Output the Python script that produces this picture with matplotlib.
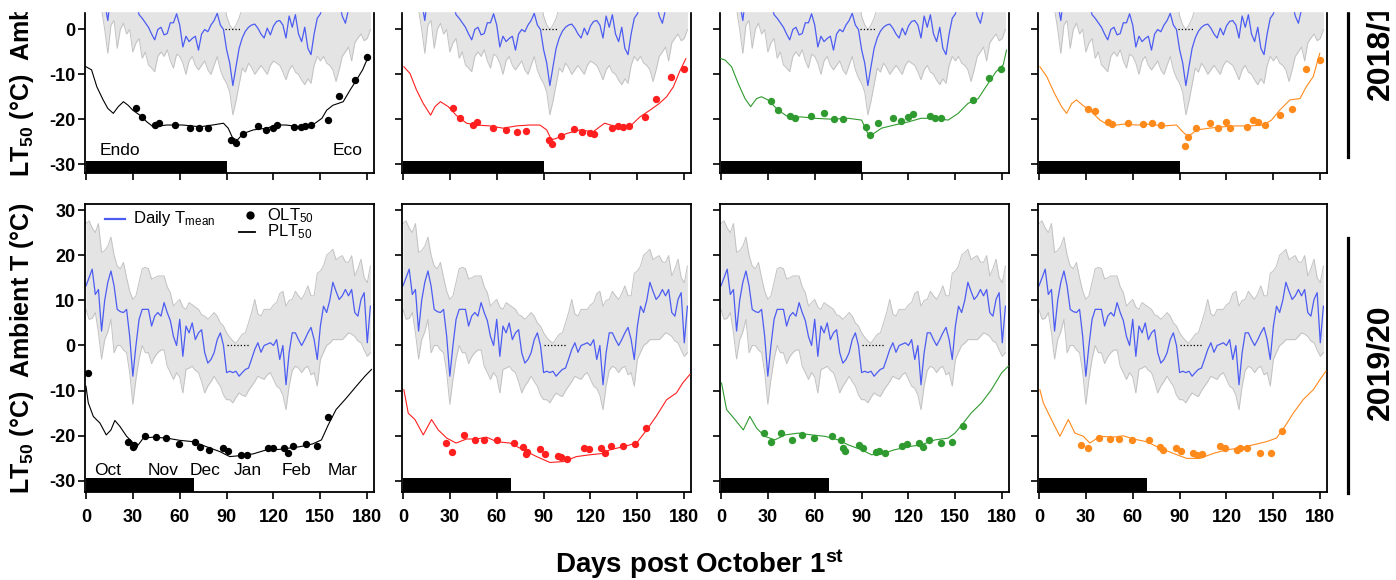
import matplotlib
matplotlib.use('Agg')
import matplotlib.pyplot as plt
from matplotlib.patches import Rectangle
from matplotlib.lines import Line2D
import numpy as np

plt.rcParams['font.family'] = ['Liberation Sans', 'DejaVu Sans']
plt.rcParams['mathtext.default'] = 'regular'

# daily temperature, sampled every 2 days from Oct 1st
days = np.arange(0, 184, 2)

# 2018/19 season
t_mean_1819 = [12, 10, 11, 13, 9, 8, 6, 2, 8, 10,
               9, 11, 8, 9, 7, 8, 6, 3.3, 2.5, 1.5,
               0.5, -1, -2.3, 0, 0.5, -1.2, -0.9, 1.5, 1.5, 3.5,
               1, -3.9, -1.5, -2.7, -2, -1.5, -4.6, -1, 0, -0.5,
               1, 2, 3.6, 1, 0, -4.5, -7.5, -12.5, -8.3, -4.2,
               -1.9, -0.4, 0.5, 1, 1.2, 0.3, -1, -1.9, 0.3, -1.2,
               0.8, 1.8, 2, 1, -1.9, 3, 0.5, 3.3, -1, -2.7,
               0.5, -4.2, -5.6, -1, 2.5, 3.5, 6, 8, 5, 7,
               9, 6, 3, 1.4, 4.5, 7, 10, 9, 12, 8,
               10, 12]
t_max_1819 = [22, 20, 18, 21, 19, 17, 15, 12, 17, 19,
              16, 18, 15, 16, 14, 15, 13, 12, 11, 10,
              9, 8, 7, 9, 10, 8, 9, 11, 10, 12,
              10, 7, 8, 9, 8, 9, 6, 8, 9, 8,
              10, 11, 12, 10, 8, 3, 1, 0, 1, 2.5,
              5, 8, 9, 10, 11, 9, 8, 7, 9, 8,
              10, 11, 12, 10, 8, 12, 10, 12, 9, 8,
              10, 7, 6, 9, 12, 13, 15, 17, 14, 16,
              18, 15, 12, 11, 13, 16, 19, 18, 21, 17,
              19, 21]
t_min_1819 = [6, 5, 7, 8, 5, 4.5, 0, -5.3, 1, 2,
              -4.2, 0, 1.4, -1, 0, -5, -3, -2, -6.4, -5,
              -7.9, -8.6, -9.4, -6, -5, -6, -4.5, -7, -8.6, -5.5,
              -6, -7.5, -10, -7, -6, -8, -9, -8, -7, -9,
              -10, -8, -6, -9, -10.8, -12, -14, -19, -16, -12.3,
              -8.6, -9.5, -7.5, -8.5, -10, -9, -8, -9, -10, -8,
              -7, -7.5, -8, -9.5, -11.2, -9, -8, -9.5, -10, -11.3,
              -12.3, -11, -12, -8, -6, -7, -6, -7.5, -8, -9,
              -11.6, -9, -6, -5, -3.9, -7, -3, -1.9, -1, -2.5,
              -2, 0]

# 2019/20 season
t_mean_1920 = [13.2, 15.0, 16.9, 11.3, 12.4, 3.2, 10.0, 14.0, 16.5, 13.2,
               8.0, 7.5, 7.3, 8.0, 2.0, -6.8, 0.0, 5.8, 8.0, 8.0,
               8.0, 4.3, 6.5, 7.3, 6.5, 9.5, 7.3, 5.5, 2.0, 0.0,
               5.8, -2.4, 4.3, 2.8, 5.0, 1.3, 2.8, 3.5, -1.6, -3.9,
               -3.1, -1.6, 1.3, 2.8, 0.0, -6.0, -5.7, -6.0, -5.7, -6.8,
               -6.0, -5.3, -5.0, -3.0, -0.9, 0.6, -1.5, 0.0, 0.3, 0.6,
               0.0, 1.3, -3.1, 0.0, -8.7, -1.6, 2.8, 2.8, 1.3, 0.0,
               1.3, 2.8, 4.0, 1.3, -3.1, 4.3, 8.7, 7.3, 10.0, 14.0,
               12.0, 10.2, 11.0, 12.4, 11.0, 12.4, 7.3, 6.5, 10.2, 11.7,
               0.6, 8.7]
t_max_1920 = [27, 27.6, 26, 25, 27, 20.6, 21, 22, 24, 20,
              17.6, 17, 18.4, 15, 12, 10.2, 11, 14, 17, 17.3,
              17, 14.7, 15, 15.4, 15.4, 15.4, 13, 11.7, 8.7, 9.5,
              10.2, 8.5, 8, 9.5, 9, 8.5, 8, 6.8, 6.5, 5.8,
              6.5, 7.3, 6.5, 5, 4.3, 2.8, 1.8, 1, 0.5, 1.5,
              2.5, 2.8, 5, 7.3, 10.2, 7, 6.5, 8, 8, 8,
              9, 9.5, 11.5, 12, 8.7, 10, 10.2, 12, 11, 10.2,
              11.5, 13.2, 11, 11, 16, 16.5, 17.6, 20, 20.6, 21.3,
              19, 19.5, 19.9, 18.5, 18.4, 19.9, 15.4, 17, 19.1, 15,
              13.9, 17.6]
t_min_1920 = [8, 5.8, 6, 7.3, 2.8, -3, 1.3, 3, 5.8, -1.6,
              0, 0, -1, -1.6, -6, -13, -7.5, -3, 0, -1.6,
              -1.6, -4, -2.5, -1.6, -1, -1, -4.6, -6, -7.5, -6,
              -7, -10.5, -5.3, -5, -4.6, -5.5, -6, -8, -10.5, -9,
              -8, -6.8, -8, -9, -11, -12, -12, -12.7, -11.5, -10.5,
              -11, -11.3, -10, -9, -8, -6.8, -7.2, -7.5, -6.5, -6,
              -7.5, -9, -9.5, -11, -14.2, -9, -5.5, -4.6, -5, -6,
              -5, -4.6, -6.5, -6, -9, -3.1, -1.5, 0, 0.5, 1.3,
              1.3, 1.3, 1.3, 2, 2.8, 2.5, 2, 1, 0.6, -1,
              -2.4, -1.6]

# predicted LT50 (lines) and observed LT50 (dots), 2018/19
plt_d_1819_k = [0, 3.6, 7, 11, 14, 17.5, 20.7, 24, 27, 30, 34.5, 39, 43, 51.6, 62, 73, 81, 88, 91, 94,
                97, 100.6, 107, 115.6, 122, 128, 137, 145, 151, 154, 158, 164.6, 169, 173, 177, 180.6]
plt_v_1819_k = [-8.3, -9, -12.8, -15.7, -17.6, -18.7, -17.2, -16.1, -16.9, -18, -19.1, -20.6, -21.7, -21.3,
                -21.3, -21.7, -21.3, -20.9, -22, -24.3, -24.6, -23.2, -22.4, -22, -21.3, -21.3, -21.7,
                -21.3, -19.8, -18, -16.9, -16.1, -13.5, -11.3, -9, -6.1]
olt_d_1819_k = [32, 36, 44, 47, 57, 66.5, 72.5, 78, 93, 96, 100.6, 110, 115, 119.4, 122, 133, 137.5, 140,
                144, 155, 162, 172, 180]
olt_v_1819_k = [-17.4, -19.5, -21.2, -20.9, -21.3, -22, -22, -22, -24.6, -25.4, -23.2, -21.5, -22.4, -22,
                -21.3, -21.7, -21.7, -21.5, -21.3, -20.2, -14.8, -11.3, -6.1]

plt_d_1819_r = [0.6, 4.5, 8.7, 13, 17.7, 20.5, 24, 29, 34, 40.7, 47, 55.6, 64, 72.7, 81, 87.6, 92, 95, 98,
                104.7, 113, 121.7, 129, 136.7, 145, 151.6, 158, 164, 168.7, 173, 177, 181]
plt_v_1819_r = [-8.3, -9.8, -13.5, -16.5, -19.1, -17.2, -16.1, -17.2, -19.1, -20.9, -21.3, -21.5, -22,
                -21.5, -21.3, -21.3, -22.4, -24.6, -24.3, -23.2, -22.4, -22.8, -20.9, -21.7, -21.7, -19.5,
                -18, -16.5, -15, -12.8, -9.4, -6.5]
olt_d_1819_r = [32, 36.5, 45, 47.5, 57.8, 66, 72.7, 78.7, 93.6, 95.5, 100.9, 109.6, 114.7, 119.6, 122.4,
                133.5, 137.7, 140.5, 144.6, 154.8, 161.6, 171.8, 179.7]
olt_v_1819_r = [-17.6, -19.8, -21.3, -20.6, -21.9, -22.4, -22.8, -22.6, -24.6, -25.5, -23.8, -22.2, -22.9,
                -23, -23.2, -22, -21.5, -21.8, -21.5, -19.5, -15.6, -10.7, -8.7]

plt_d_1819_g = [0, 2.6, 6.8, 11, 15.4, 19, 22.8, 26, 30, 36.7, 43, 51.6, 60, 70.8, 81.4, 90, 94, 96.4,
                102.8, 111, 120, 128, 137, 145.4, 151.8, 158, 164.6, 171, 176, 180.6, 182.7]
plt_v_1819_g = [-6.5, -6.8, -8.3, -12, -15.4, -17.2, -15.4, -15, -15.7, -18, -19.5, -19.5, -19.8, -20,
                -19.8, -20.2, -23.2, -23.5, -22, -21.3, -20.6, -19.8, -19.8, -20.2, -18.7, -16.5, -15.4,
                -12, -9.4, -7.9, -4.6]
olt_d_1819_g = [32, 36.7, 44, 47.3, 57.6, 66, 72.3, 78, 93, 95.3, 100.6, 109.8, 114.9, 119.8, 122.6,
                133.7, 137, 141, 161.4, 171.6, 179.5]
olt_v_1819_g = [-16, -18, -19.3, -19.7, -19.3, -18.7, -20, -20, -21.7, -23.5, -20.9, -19.8, -20.4, -19.5,
                -18.9, -19.3, -19.8, -19.8, -15.7, -10.9, -8.8]

plt_d_1819_o = [0.6, 5, 10, 14.5, 17.7, 21, 24, 28, 32.6, 39, 45.4, 54, 62.5, 71, 79.5, 88, 92, 95.5,
                100.9, 109, 118, 126, 135, 143.5, 148.8, 154, 160.6, 167, 171, 175.5, 179.7]
plt_v_1819_o = [-8.3, -10.5, -14.3, -17.2, -18.7, -16.5, -15.7, -16.9, -18, -20.2, -21.5, -21.1, -21.3,
                -21.1, -21.5, -21.3, -22.8, -23.9, -22.4, -22, -21.7, -21.5, -21.5, -21.3, -20.2, -18,
                -15.7, -15.4, -12.8, -10.5, -5.3]
olt_d_1819_o = [31.6, 35.8, 44.3, 47, 57, 66.3, 72.3, 78, 93.4, 95.5, 100.4, 109.4, 114.7, 119.6, 122,
                133, 137, 140, 144.6, 154, 161.6, 171, 179.7]
olt_v_1819_o = [-17.8, -18.2, -20.6, -21.1, -20.9, -21.1, -20.9, -21.4, -25.9, -23.9, -21.9, -20.9, -22,
                -20.6, -22, -21.8, -20.2, -20.6, -21.3, -19.1, -17.8, -8.7, -6.8]

# 2019/20
plt_d_1920_k = [0, 1.5, 4.7, 9, 13, 16, 18.5, 21.7, 26, 30.3, 33.5, 36.7, 43, 51.6, 60, 68.7, 77, 85.7,
                92, 98.5, 107, 115.6, 124, 130.5, 137, 145, 150.7, 155, 160, 166.7, 173, 178.5, 182.7]
plt_v_1920_k = [-9, -12.7, -15.7, -17.2, -19.8, -18.7, -16.6, -17.9, -20.1, -21.6, -22, -20.5, -20.3,
                -20.5, -21, -21.3, -22.4, -23.5, -24.6, -24.4, -24, -23.1, -23, -22.7, -22.4, -21.8,
                -20.9, -17.6, -14.2, -11.6, -9, -6.8, -5.3]
olt_d_1920_k = [1.5, 27, 30.3, 31, 38, 45, 51, 59.7, 70, 73, 79, 88, 91, 99, 103, 116.6, 120, 127, 129.4,
                132.6, 141, 148, 155]
olt_v_1920_k = [-6.1, -21.3, -22.4, -22, -20, -20.3, -20.4, -21.8, -21.3, -22.4, -23.1, -22.7, -23.3,
                -24.2, -24.2, -22.7, -22.7, -22.7, -23.9, -22.2, -21.8, -22.2, -15.9]

plt_d_1920_r = [0.6, 3.4, 7.7, 13, 18.3, 22.6, 28, 34, 40.7, 47, 53.5, 60, 68.4, 77, 85.5, 94, 102.6,
                111, 119.6, 128, 132.4, 141, 149.5, 155.9, 162, 168.7, 175, 179, 183.6]
plt_v_1920_r = [-9.8, -15, -16.4, -19.8, -16.4, -18.7, -20.5, -21.6, -20.7, -20.7, -20.3, -21.3, -21.6,
                -23.1, -24.6, -25.9, -25.7, -24.6, -24.2, -23.9, -23.1, -22.4, -21.6, -18.7, -15.7, -12,
                -10.5, -8.3, -6.4]
olt_d_1920_r = [27.5, 31.6, 39, 46, 51.8, 60, 71, 77, 78.7, 79.5, 88, 91, 99.4, 101, 105, 116, 119,
                126.6, 129, 133, 141, 148.4, 155.4]
olt_v_1920_r = [-21.5, -23.5, -19.8, -21, -21, -21, -21.6, -22.5, -24, -23.5, -23, -24, -24.4, -24.6,
                -25.2, -22.7, -23, -22.7, -23.9, -22.2, -22.2, -21.9, -18.3]

plt_d_1920_g = [0.4, 3.6, 9, 14.3, 18.5, 22.8, 28, 34.5, 41, 49.5, 58, 66.5, 75, 81.4, 90, 96.4, 102.8,
                111, 120, 128, 137, 145.4, 149.7, 155, 160, 166.7, 173, 179.5, 183.8]
plt_v_1920_g = [-8.3, -14.2, -16.4, -18.7, -15.7, -18.3, -20.1, -20.9, -19.8, -19.4, -19.8, -20.1,
                -20.9, -22, -23.1, -24.2, -24, -23.1, -22.4, -22, -20.9, -20.5, -19.4, -17.2, -15, -12.7,
                -9.8, -6.1, -4.6]
olt_d_1920_g = [27.7, 32, 38.4, 45.6, 51.6, 59.7, 70.8, 76.8, 78.3, 79.3, 88.3, 91, 99, 101, 105, 116,
                119, 126.9, 129.4, 133, 141, 148, 155]
olt_v_1920_g = [-19.4, -21.3, -19.4, -20.9, -19.8, -20.5, -20.1, -20.9, -22.7, -23.3, -22, -22.7,
                -23.5, -23.3, -23.9, -22.2, -21.9, -21.6, -22.4, -20.9, -21.6, -21.3, -17.8]

plt_d_1920_o = [0.6, 2.8, 7, 13.4, 18.8, 23, 28.4, 32.6, 39, 47.5, 54, 60.3, 68.9, 77.4, 86, 94.5, 103,
                111.5, 120, 128.6, 137, 145.6, 152, 157.4, 162.7, 169, 175.5, 179.7, 183.6]
plt_v_1920_o = [-9.8, -12.7, -15.7, -20.1, -16.4, -19.4, -20.1, -21.6, -20.1, -20.3, -20, -20.7, -21.3,
                -22.7, -23.9, -25, -25, -23.9, -23.1, -22.7, -22, -21.3, -20.5, -17.9, -15, -12, -9.8,
                -7.6, -5.7]
olt_d_1920_o = [26.9, 31.6, 38.6, 45.4, 51.4, 59.7, 70.6, 77.4, 79.5, 88, 90.8, 98.7, 100.9, 104.5,
                115.8, 119, 126.9, 128.6, 132.8, 141.4, 148.2, 155.2]
olt_v_1920_o = [-22, -22.7, -20.5, -20.7, -20.7, -21, -21, -22.5, -23.1, -22.7, -23.3, -23.7, -24.2,
                -24.1, -22.2, -22.7, -23.1, -22.7, -22.7, -23.7, -23.7, -19]

colors = ['black', '#ff1f1f', '#2f9a2f', '#ff8a1c']
seasons = ['2018/19', '2019/20']
endo_end = [90, 69]    # end of black bar (endodormancy)
months = ['Oct', 'Nov', 'Dec', 'Jan', 'Feb', 'Mar']
month_pos = [14, 49.5, 76, 103.5, 135, 164]

temps = [(t_mean_1819, t_min_1819, t_max_1819), (t_mean_1920, t_min_1920, t_max_1920)]
lines = [[(plt_d_1819_k, plt_v_1819_k, olt_d_1819_k, olt_v_1819_k),
          (plt_d_1819_r, plt_v_1819_r, olt_d_1819_r, olt_v_1819_r),
          (plt_d_1819_g, plt_v_1819_g, olt_d_1819_g, olt_v_1819_g),
          (plt_d_1819_o, plt_v_1819_o, olt_d_1819_o, olt_v_1819_o)],
         [(plt_d_1920_k, plt_v_1920_k, olt_d_1920_k, olt_v_1920_k),
          (plt_d_1920_r, plt_v_1920_r, olt_d_1920_r, olt_v_1920_r),
          (plt_d_1920_g, plt_v_1920_g, olt_d_1920_g, olt_v_1920_g),
          (plt_d_1920_o, plt_v_1920_o, olt_d_1920_o, olt_v_1920_o)]]

W, H = 1396, 580
fig = plt.figure(figsize=(W / 100, H / 100), dpi=100)


def box(left, top, w, h):
    return [left / W, 1 - (top + h) / H, w / W, h / H]


col_left = [85, 402, 720, 1038]
# top row is cut off at the top of the picture, like the original figure
row_box = [(-111, 284, (-32, 31.33)), (204, 288, (-32.44, 31.33))]
# season bar (top, bottom) and label centre, in pixels from the top
season_bar = [(-98, 157), (238, 493)]
season_mid = [42, 362]

for r in range(2):
    top, h, ylim = row_box[r]
    tmean, tmin, tmax = temps[r]
    for c in range(4):
        ax = fig.add_axes(box(col_left[c], top, 289, h))
        ax.fill_between(days, tmin, tmax, color='#e4e4e4', lw=0, zorder=1)
        ax.plot(days, tmin, color='#c2c2c2', lw=0.7, zorder=1.5)
        ax.plot(days, tmax, color='#c2c2c2', lw=0.7, zorder=1.5)
        ax.plot(days, tmean, color='#4b5cf2', lw=0.9, zorder=2)
        if r == 0:
            ax.plot([89, 99], [0, 0], ls=':', color='k', lw=0.9, zorder=3)
        else:
            ax.plot([90, 105], [0, 0], ls=':', color='k', lw=0.9, zorder=3)
        pd, pv, od, ov = lines[r][c]
        ax.plot(pd, pv, color=colors[c], lw=0.8, zorder=4)
        ax.plot(od, ov, 'o', color=colors[c], ms=5.3, mec='none', zorder=5)
        ax.fill_between([0, endo_end[r]], ylim[0], -29.3, color='black', lw=0, zorder=6)

        ax.set_xlim(-0.6, 184.3)
        ax.set_ylim(*ylim)
        ax.set_xticks(range(0, 181, 30))
        ax.set_yticks(range(-30, 31, 10))
        ax.tick_params(direction='out', length=5, width=1.2, labelsize=13)
        ax.tick_params(axis='x', pad=7)
        ax.tick_params(axis='y', pad=2)
        for sp in ax.spines.values():
            sp.set_linewidth(1.3)
        if r == 0:
            ax.spines['top'].set_visible(False)
            ax.set_xticklabels([])
        else:
            ax.set_xticklabels([str(v) for v in range(0, 181, 30)], fontweight='bold')
        if c == 0:
            ax.set_yticklabels([str(v) for v in range(-30, 31, 10)], fontweight='bold')
        else:
            ax.set_yticklabels([])

        if r == 0 and c == 0:
            ax.text(9, -27, 'Endo', fontsize=12.5, va='center', ha='left')
            ax.text(177, -27, 'Eco', fontsize=12.5, va='center', ha='right')
        if r == 1 and c == 0:
            for m, x in zip(months, month_pos):
                ax.text(x, -27.6, m, fontsize=12.5, ha='center', va='center')
            # legend
            ax.plot([12, 25], [28.1, 28.1], color='#4b5cf2', lw=1.6)
            ax.text(30, 28.1, 'Daily T$_{mean}$', fontsize=12, va='center')
            ax.plot([105], [28.8], 'o', color='black', ms=6, mec='none')
            ax.text(116, 28.8, 'OLT$_{50}$', fontsize=12, va='center')
            ax.plot([98, 108], [25.2, 25.2], color='black', lw=1.3)
            ax.text(116, 25.2, 'PLT$_{50}$', fontsize=12, va='center')

    # season label with bar on the right side
    b0, b1 = season_bar[r]
    fig.add_artist(Line2D([1348 / W, 1348 / W], [1 - b0 / H, 1 - b1 / H], color='black', lw=2.3))
    fig.text(1380 / W, 1 - season_mid[r] / H, seasons[r], rotation=90, fontsize=23,
             fontweight='bold', ha='center', va='center')
    fig.text(22 / W, 1 - (top + h / 2) / H, 'LT$_{50}$ (°C)  Ambient T (°C)', rotation=90,
             fontsize=18, fontweight='bold', ha='center', va='center')

fig.text(700 / W, 1 - 564 / H, 'Days post October 1$^{st}$', fontsize=20, fontweight='bold',
         ha='center', va='center')

# white strip where the original figure was cropped
fig.add_artist(Rectangle((0, 1 - 11 / H), 1, 11 / H, transform=fig.transFigure,
                         color='white', zorder=10))

fig.savefig('out.png', dpi=100)
